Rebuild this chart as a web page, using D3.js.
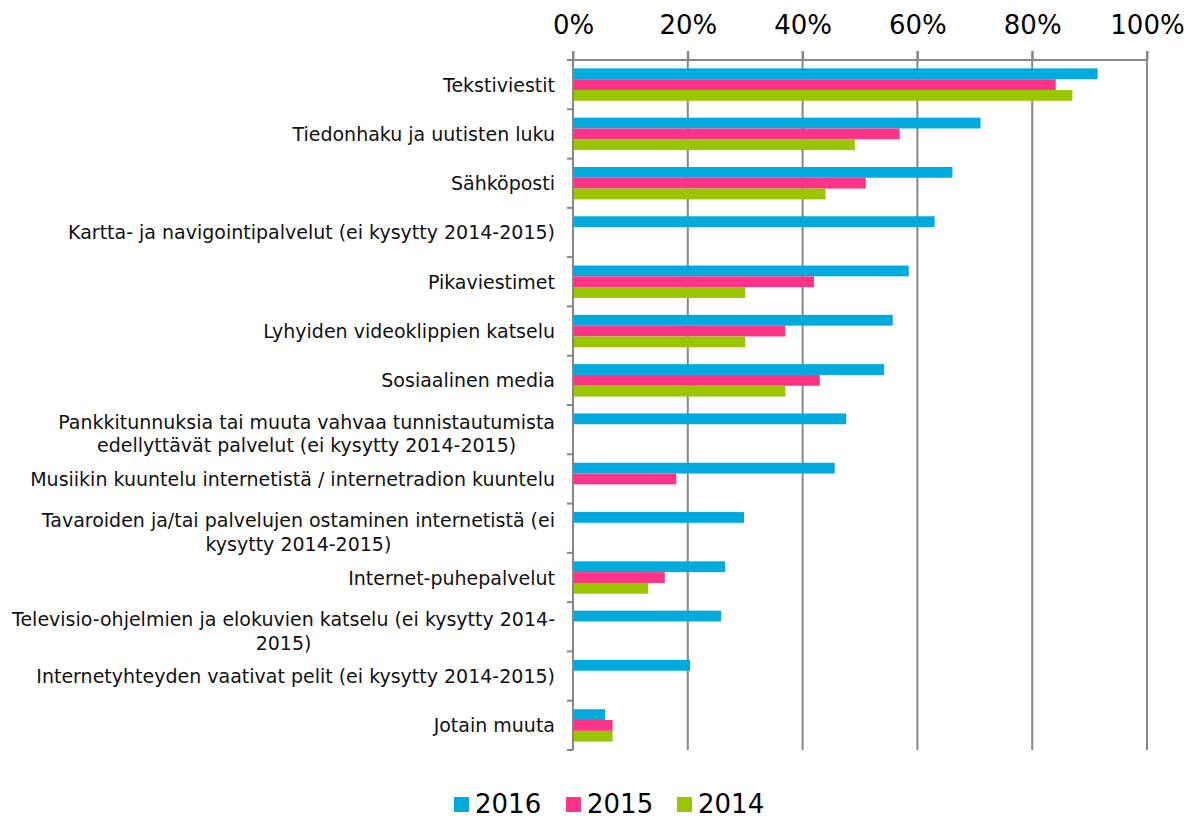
<!DOCTYPE html>
<html>
<head>
<meta charset="utf-8">
<script src="https://cdn.jsdelivr.net/npm/d3@7"></script>
<style>
  body { margin: 0; background: #fff; }
  svg { font-family: Verdana, "DejaVu Sans", sans-serif; }
</style>
</head>
<body>
<div id="chart"></div>
<script>
// categories, line breaks as in the original
const categories = [
  'Tekstiviestit',
  'Tiedonhaku ja uutisten luku',
  'Sähköposti',
  'Kartta- ja navigointipalvelut (ei kysytty 2014-2015)',
  'Pikaviestimet',
  'Lyhyiden videoklippien katselu',
  'Sosiaalinen media',
  'Pankkitunnuksia tai muuta vahvaa tunnistautumista\nedellyttävät palvelut (ei kysytty 2014-2015)',
  'Musiikin kuuntelu internetistä / internetradion kuuntelu',
  'Tavaroiden ja/tai palvelujen ostaminen internetistä (ei\nkysytty 2014-2015)',
  'Internet-puhepalvelut',
  'Televisio-ohjelmien ja elokuvien katselu (ei kysytty 2014-\n2015)',
  'Internetyhteyden vaativat pelit (ei kysytty 2014-2015)',
  'Jotain muuta'
];

const seriesNames = ['2016', '2015', '2014'];
const seriesColors = ['#00aadd', '#ff3388', '#99c600'];

// values in %, null = not asked
const values2016 = [91.4, 71.0, 66.1, 63.0, 58.5, 55.7, 54.2, 47.6, 45.6, 29.8, 26.5, 25.8, 20.4, 5.6];
const values2015 = [84.1, 56.9, 51.0, null, 42.0, 37.0, 43.0, null, 18.0, null, 16.0, null, null, 6.9];
const values2014 = [87.0, 49.1, 44.0, null, 30.0, 30.0, 37.0, null, null, null, 13.1, null, null, 6.9];

const tickValues = [0, 20, 40, 60, 80, 100];

const W = 1203, H = 816;
const margin = { top: 60, right: 56, bottom: 66, left: 573 };
const width = W - margin.left - margin.right;
const height = H - margin.top - margin.bottom;

const svg = d3.select('#chart').append('svg')
  .attr('width', W)
  .attr('height', H);

const chart = svg.append('g')
  .attr('transform', `translate(${margin.left},${margin.top})`);

const x = d3.scaleLinear().domain([0, 100]).range([0, width]);
const y = d3.scaleBand().domain(categories).range([0, height]).paddingInner(0.343).paddingOuter(0.17);
const ySub = d3.scaleBand().domain(seriesNames).range([0, y.bandwidth()]);

// gridlines
chart.append('g')
  .selectAll('line')
  .data(tickValues.slice(1))
  .join('line')
  .attr('x1', d => x(d)).attr('x2', d => x(d))
  .attr('y1', -9).attr('y2', height)
  .attr('stroke', '#878787')
  .attr('stroke-width', 2);

// top axis
const xAxis = d3.axisTop(x).tickValues(tickValues).tickFormat(d => d + '%').tickSize(9).tickPadding(17);
const xAxisG = chart.append('g').call(xAxis);
xAxisG.select('.domain').attr('stroke', '#878787').attr('stroke-width', 2).attr('d', `M0,0H${width}`);
xAxisG.selectAll('.tick line').attr('stroke', '#878787').attr('stroke-width', 2);
xAxisG.selectAll('.tick text')
  .attr('font-size', 26)
  .attr('font-family', 'Verdana, "DejaVu Sans", sans-serif')
  .attr('fill', '#000');

// left axis line and boundary ticks
const step = height / categories.length;
const yAxisG = chart.append('g');
yAxisG.append('line')
  .attr('x1', 0).attr('x2', 0).attr('y1', -9).attr('y2', height)
  .attr('stroke', '#878787').attr('stroke-width', 2);
yAxisG.selectAll('.btick')
  .data(d3.range(categories.length + 1))
  .join('line')
  .attr('class', 'btick')
  .attr('x1', -6).attr('x2', 0)
  .attr('y1', d => d * step).attr('y2', d => d * step)
  .attr('stroke', '#878787').attr('stroke-width', 2);

// category labels
const labels = chart.append('g')
  .selectAll('text')
  .data(categories)
  .join('text')
  .attr('x', -18)
  .attr('text-anchor', 'end')
  .attr('font-size', 19)
  .attr('fill', '#111');

labels.each(function(d) {
  const lines = d.split('\n');
  const cy = y(d) + y.bandwidth() / 2 + (lines.length > 1 ? 4 : 0);
  const lh = 23.5;
  const t = d3.select(this);
  lines.forEach((ln, i) => {
    t.append('tspan')
      .attr('x', -18)
      .attr('y', cy + 7 + (i - (lines.length - 1) / 2) * lh)
      .text(ln);
  });
});

// later lines of wrapped labels are centred under the first one
labels.each(function() {
  const spans = d3.select(this).selectAll('tspan').nodes();
  if (spans.length > 1) {
    const firstW = spans[0].getComputedTextLength();
    spans.forEach((s, i) => {
      if (i > 0) d3.select(s).attr('text-anchor', 'middle').attr('x', -18 - firstW / 2);
    });
  }
});

// bars
const series = [values2016, values2015, values2014];
const barData = [];
categories.forEach((c, i) => {
  series.forEach((vals, s) => {
    if (vals[i] != null) barData.push({ cat: c, name: seriesNames[s], color: seriesColors[s], value: vals[i] });
  });
});

chart.append('g')
  .selectAll('rect')
  .data(barData)
  .join('rect')
  .attr('x', 1)
  .attr('y', d => y(d.cat) + ySub(d.name))
  .attr('width', d => x(d.value) - 1)
  .attr('height', ySub.bandwidth())
  .attr('fill', d => d.color);

// legend
const legend = svg.append('g').attr('transform', 'translate(454,804)');
const legendX = [0, 112, 223];
seriesNames.forEach((n, i) => {
  const g = legend.append('g').attr('transform', `translate(${legendX[i]},0)`);
  g.append('rect').attr('x', 0).attr('y', -7).attr('width', 15).attr('height', 15).attr('fill', seriesColors[i]);
  g.append('text').attr('x', 21).attr('y', 9).attr('font-size', 26).attr('fill', '#000').text(n);
});
</script>
</body>
</html>
